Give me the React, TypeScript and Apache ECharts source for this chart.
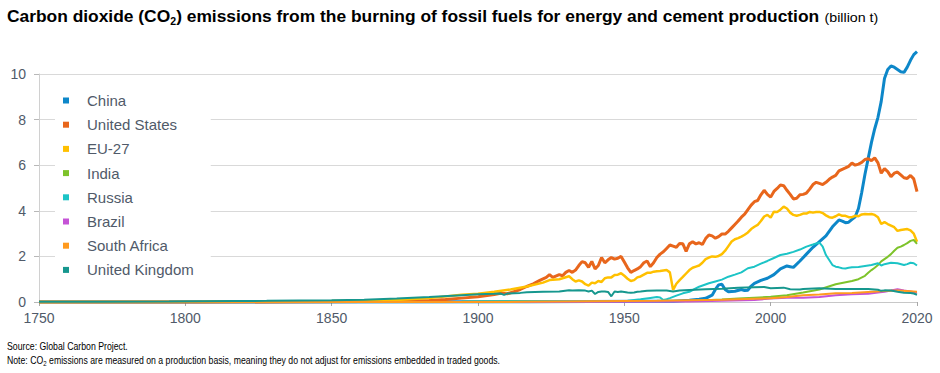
import React, { useEffect, useRef } from "react";
import * as echarts from "echarts";

const tickLabels = ["1750", "1800", "1850", "1900", "1950", "2000", "2020"];
const seriesNames = ["China", "United States", "EU-27", "India", "Russia", "Brazil", "South Africa", "United Kingdom"];
const seriesColors = ["#0d87c9", "#e8661c", "#ffc000", "#7dc32a", "#1cc4c6", "#c553d6", "#ff9a1f", "#16978e"];
const seriesWidths = [3, 3, 2.5, 2, 2, 2, 2, 2];

const china: [number, number][] = [
  [1750, 0], [1900, 0.01], [1920, 0.02], [1935, 0.03], [1945, 0.03], [1950, 0.08], [1953, 0.12], [1955, 0.16], [1957, 0.3], [1958, 0.55], [1959, 0.75], [1960, 0.78], [1961, 0.55], [1962, 0.45], [1964, 0.47], [1966, 0.55], [1967, 0.5], [1968, 0.52], [1969, 0.7], [1970, 0.82], [1972, 0.95], [1974, 1.04], [1976, 1.2], [1978, 1.45], [1980, 1.58], [1981, 1.55], [1982, 1.52], [1984, 1.8], [1986, 2.1], [1988, 2.4], [1990, 2.65], [1992, 2.9], [1994, 3.3], [1996, 3.6], [1997, 3.55], [1998, 3.48], [1999, 3.5], [2000, 3.62], [2001, 3.74], [2002, 4.1], [2003, 4.8], [2004, 5.6], [2005, 6.3], [2006, 7.0], [2007, 7.6], [2008, 8.1], [2009, 8.8], [2010, 9.8], [2011, 10.2], [2012, 10.35], [2013, 10.3], [2014, 10.2], [2015, 10.1], [2016, 10.07], [2017, 10.3], [2018, 10.6], [2019, 10.85], [2020, 10.98],
];

const unitedStates: [number, number][] = [
  [1750, 0], [1800, 0], [1830, 0.01], [1850, 0.02], [1860, 0.03], [1866, 0.05], [1870, 0.07], [1875, 0.11], [1880, 0.17], [1885, 0.23], [1890, 0.33], [1892, 0.38], [1894, 0.36], [1896, 0.45], [1898, 0.55], [1900, 0.68], [1902, 0.8], [1904, 0.95], [1906, 1.08], [1907, 1.2], [1908, 1.08], [1910, 1.2], [1911, 1.15], [1912, 1.3], [1913, 1.38], [1914, 1.3], [1915, 1.4], [1916, 1.6], [1917, 1.77], [1918, 1.72], [1919, 1.52], [1920, 1.78], [1921, 1.45], [1922, 1.6], [1923, 1.95], [1924, 1.72], [1925, 1.85], [1926, 1.95], [1927, 1.88], [1928, 1.92], [1929, 2.0], [1930, 1.75], [1931, 1.5], [1932, 1.3], [1933, 1.38], [1934, 1.45], [1935, 1.55], [1936, 1.72], [1937, 1.8], [1938, 1.55], [1939, 1.72], [1940, 1.95], [1941, 2.1], [1942, 2.2], [1943, 2.35], [1944, 2.5], [1945, 2.45], [1946, 2.4], [1947, 2.57], [1948, 2.55], [1949, 2.22], [1950, 2.55], [1951, 2.64], [1952, 2.55], [1953, 2.6], [1954, 2.52], [1955, 2.78], [1956, 2.94], [1957, 2.9], [1958, 2.8], [1959, 2.87], [1960, 2.98], [1961, 2.98], [1962, 3.1], [1963, 3.25], [1964, 3.4], [1965, 3.55], [1966, 3.72], [1967, 3.85], [1968, 4.05], [1969, 4.25], [1970, 4.4], [1971, 4.45], [1972, 4.7], [1973, 4.9], [1974, 4.72], [1975, 4.6], [1976, 4.85], [1977, 4.98], [1978, 5.13], [1979, 5.1], [1980, 4.9], [1981, 4.72], [1982, 4.52], [1983, 4.55], [1984, 4.7], [1985, 4.72], [1986, 4.78], [1987, 4.95], [1988, 5.15], [1989, 5.25], [1990, 5.2], [1991, 5.15], [1992, 5.25], [1993, 5.38], [1994, 5.48], [1995, 5.55], [1996, 5.75], [1997, 5.82], [1998, 5.88], [1999, 5.95], [2000, 6.1], [2001, 6.0], [2002, 6.05], [2003, 6.12], [2004, 6.25], [2005, 6.28], [2006, 6.2], [2007, 6.32], [2008, 6.1], [2009, 5.65], [2010, 5.85], [2011, 5.72], [2012, 5.5], [2013, 5.65], [2014, 5.7], [2015, 5.58], [2016, 5.45], [2017, 5.42], [2018, 5.55], [2019, 5.4], [2020, 4.84],
];

const eu27: [number, number][] = [
  [1750, 0], [1800, 0.01], [1820, 0.02], [1840, 0.04], [1850, 0.06], [1860, 0.09], [1870, 0.17], [1880, 0.32], [1885, 0.36], [1890, 0.45], [1895, 0.55], [1900, 0.68], [1905, 0.85], [1907, 0.96], [1910, 1.0], [1913, 1.13], [1914, 1.0], [1915, 0.9], [1916, 0.95], [1917, 0.9], [1918, 0.78], [1919, 0.72], [1920, 0.85], [1921, 0.82], [1922, 0.92], [1923, 0.88], [1924, 1.04], [1925, 1.08], [1926, 1.08], [1927, 1.18], [1928, 1.2], [1929, 1.26], [1930, 1.15], [1931, 1.02], [1932, 0.92], [1933, 0.96], [1934, 1.08], [1935, 1.12], [1936, 1.2], [1937, 1.28], [1938, 1.28], [1939, 1.33], [1940, 1.35], [1941, 1.36], [1942, 1.38], [1943, 1.4], [1944, 1.3], [1945, 0.53], [1946, 0.8], [1947, 0.96], [1948, 1.1], [1949, 1.25], [1950, 1.4], [1951, 1.5], [1952, 1.55], [1953, 1.6], [1954, 1.72], [1955, 1.88], [1956, 1.95], [1957, 2.0], [1958, 1.98], [1959, 2.02], [1960, 2.1], [1961, 2.25], [1962, 2.45], [1963, 2.65], [1964, 2.75], [1965, 2.8], [1966, 2.87], [1967, 2.95], [1968, 3.05], [1969, 3.2], [1970, 3.3], [1971, 3.38], [1972, 3.55], [1973, 3.75], [1974, 3.82], [1975, 3.7], [1976, 3.96], [1977, 3.95], [1978, 4.05], [1979, 4.18], [1980, 4.1], [1981, 3.92], [1982, 3.82], [1983, 3.78], [1984, 3.82], [1985, 3.88], [1986, 3.88], [1987, 3.95], [1988, 3.92], [1989, 3.95], [1990, 3.95], [1991, 3.9], [1992, 3.8], [1993, 3.72], [1994, 3.7], [1995, 3.76], [1996, 3.84], [1997, 3.78], [1998, 3.78], [1999, 3.72], [2000, 3.72], [2001, 3.78], [2002, 3.76], [2003, 3.84], [2004, 3.86], [2005, 3.85], [2006, 3.86], [2007, 3.82], [2008, 3.72], [2009, 3.42], [2010, 3.5], [2011, 3.42], [2012, 3.35], [2013, 3.28], [2014, 3.12], [2015, 3.16], [2016, 3.18], [2017, 3.2], [2018, 3.14], [2019, 3.0], [2020, 2.64],
];

const india: [number, number][] = [
  [1750, 0], [1850, 0], [1880, 0.01], [1900, 0.02], [1920, 0.03], [1940, 0.04], [1950, 0.06], [1955, 0.08], [1960, 0.11], [1965, 0.15], [1970, 0.19], [1975, 0.23], [1980, 0.3], [1985, 0.42], [1990, 0.55], [1995, 0.78], [2000, 0.92], [2002, 1.0], [2004, 1.15], [2005, 1.28], [2006, 1.4], [2007, 1.5], [2008, 1.62], [2009, 1.78], [2010, 1.88], [2011, 1.98], [2012, 2.1], [2013, 2.25], [2014, 2.38], [2015, 2.43], [2016, 2.5], [2017, 2.58], [2018, 2.68], [2019, 2.72], [2020, 2.55],
];

const russia: [number, number][] = [
  [1750, 0], [1850, 0], [1880, 0.01], [1900, 0.02], [1913, 0.04], [1920, 0.02], [1928, 0.04], [1931, 0.06], [1935, 0.12], [1938, 0.18], [1940, 0.22], [1941, 0.2], [1942, 0.09], [1943, 0.12], [1944, 0.17], [1946, 0.28], [1948, 0.38], [1950, 0.45], [1953, 0.67], [1956, 0.82], [1958, 0.9], [1960, 0.98], [1962, 1.11], [1964, 1.2], [1966, 1.3], [1968, 1.48], [1970, 1.55], [1972, 1.68], [1974, 1.8], [1976, 1.93], [1978, 2.06], [1980, 2.12], [1982, 2.2], [1984, 2.3], [1986, 2.43], [1988, 2.52], [1989, 2.57], [1990, 2.6], [1991, 2.43], [1992, 2.06], [1993, 1.84], [1994, 1.62], [1995, 1.55], [1996, 1.52], [1997, 1.48], [1998, 1.47], [1999, 1.5], [2000, 1.52], [2002, 1.54], [2004, 1.58], [2006, 1.62], [2008, 1.7], [2009, 1.6], [2010, 1.66], [2012, 1.72], [2014, 1.7], [2016, 1.62], [2017, 1.66], [2018, 1.72], [2019, 1.7], [2020, 1.6],
];

const brazil: [number, number][] = [
  [1750, 0], [1900, 0], [1930, 0.01], [1950, 0.02], [1960, 0.05], [1970, 0.09], [1975, 0.15], [1980, 0.19], [1985, 0.19], [1990, 0.22], [1995, 0.3], [2000, 0.34], [2005, 0.36], [2008, 0.42], [2010, 0.45], [2012, 0.5], [2014, 0.56], [2016, 0.5], [2018, 0.46], [2020, 0.41],
];

const southAfrica: [number, number][] = [
  [1750, 0], [1890, 0], [1900, 0.01], [1920, 0.03], [1940, 0.05], [1950, 0.08], [1960, 0.1], [1970, 0.14], [1975, 0.16], [1980, 0.22], [1985, 0.3], [1990, 0.33], [1995, 0.38], [2000, 0.4], [2005, 0.44], [2010, 0.48], [2014, 0.5], [2018, 0.47], [2020, 0.45],
];

const unitedKingdom: [number, number][] = [
  [1750, 0.01], [1770, 0.015], [1790, 0.02], [1800, 0.03], [1810, 0.04], [1820, 0.05], [1830, 0.07], [1840, 0.08], [1850, 0.1], [1860, 0.15], [1870, 0.22], [1880, 0.3], [1885, 0.34], [1890, 0.36], [1892, 0.37], [1893, 0.31], [1894, 0.37], [1898, 0.4], [1900, 0.43], [1905, 0.45], [1910, 0.46], [1913, 0.52], [1914, 0.5], [1916, 0.52], [1918, 0.5], [1919, 0.46], [1920, 0.5], [1921, 0.35], [1922, 0.44], [1923, 0.46], [1924, 0.46], [1925, 0.44], [1926, 0.25], [1927, 0.46], [1928, 0.44], [1929, 0.46], [1930, 0.44], [1931, 0.42], [1932, 0.41], [1933, 0.42], [1934, 0.45], [1935, 0.46], [1937, 0.49], [1940, 0.5], [1943, 0.5], [1945, 0.46], [1947, 0.5], [1950, 0.53], [1955, 0.56], [1960, 0.58], [1965, 0.62], [1970, 0.65], [1973, 0.66], [1975, 0.6], [1979, 0.63], [1981, 0.56], [1984, 0.55], [1985, 0.57], [1990, 0.6], [1995, 0.57], [2000, 0.57], [2005, 0.57], [2008, 0.54], [2009, 0.49], [2010, 0.51], [2012, 0.5], [2014, 0.45], [2016, 0.41], [2018, 0.39], [2019, 0.37], [2020, 0.32],
];

const seriesData = [china, unitedStates, eu27, india, russia, brazil, southAfrica, unitedKingdom];

const titleMain = "Carbon dioxide (CO";
const titleRest = ") emissions from the burning of fossil fuels for energy and cement production ";
const titleUnit = "(billion t)";
const sourceText = "Source: Global Carbon Project.";
const notePre = "Note: CO";
const notePost = " emissions are measured on a production basis, meaning they do not adjust for emissions embedded in traded goods.";

const FONT = "'Liberation Sans', Arial, sans-serif";
const AXIS_COLOR = "#505a69";

function measure(text: string, rich: any): number {
  const t = new (echarts.graphic as any).Text({ style: { text, rich } });
  return t.getBoundingRect().width;
}

export default function App() {
  const ref = useRef<HTMLDivElement>(null);
  useEffect(() => {
    document.body.style.margin = "0";
    if (!ref.current) return;
    const chart = echarts.init(ref.current, undefined, { renderer: "svg" });

    const titleRich = {
      b: { fontFamily: FONT, fontWeight: "bold", fontSize: 16.5, color: "#111", lineHeight: 20 },
      s: { fontFamily: FONT, fontWeight: "bold", fontSize: 10, color: "#111", lineHeight: 10, verticalAlign: "bottom" },
      n: { fontFamily: FONT, fontSize: 13.5, color: "#333", lineHeight: 20 },
    };
    const titleStr = `{b|${titleMain}}{s|2}{b|${titleRest}}{n|${titleUnit}}`;
    const titleW = measure(titleStr, titleRich);

    const noteRich = {
      r: { fontFamily: FONT, fontSize: 10, color: "#333", lineHeight: 12 },
      s: { fontFamily: FONT, fontSize: 7, color: "#333", lineHeight: 7, verticalAlign: "bottom" },
    };
    const sourceStr = `{r|${sourceText}}`;
    const noteStr = `{r|${notePre}}{s|2}{r|${notePost}}`;
    const sourceW = measure(sourceStr, noteRich);
    const noteW = measure(noteStr, noteRich);

    chart.setOption({
      animation: false,
      grid: { left: 39, right: 23, top: 74, bottom: 71, containLabel: false },
      legend: {
        orient: "vertical",
        left: 55,
        top: 82,
        padding: [10, 17, 12, 8],
        backgroundColor: "#ffffff",
        icon: "rect",
        itemWidth: 6,
        itemHeight: 6,
        itemGap: 7.2,
        data: seriesNames,
        textStyle: { fontFamily: FONT, fontSize: 15, color: AXIS_COLOR, lineHeight: 17, padding: [0, 0, 0, 13] },
      },
      xAxis: [
        {
          type: "category",
          data: tickLabels,
          boundaryGap: false,
          axisLine: { show: true, lineStyle: { color: "#c8c8c8", width: 1 } },
          axisTick: { show: true, length: 4, lineStyle: { color: "#a8a8a8" } },
          axisLabel: { fontFamily: FONT, fontSize: 14, color: AXIS_COLOR, margin: 9 },
          splitLine: { show: false },
        },
        {
          type: "value",
          min: 1750,
          max: 2020,
          show: false,
          splitLine: { show: false },
        },
      ],
      yAxis: {
        type: "value",
        min: 0,
        max: 10,
        interval: 2,
        axisLine: { show: true, lineStyle: { color: "#d0d0d0" } },
        axisTick: { show: true, length: 5, lineStyle: { color: "#b8b8b8" } },
        axisLabel: { fontFamily: FONT, fontSize: 14, color: AXIS_COLOR, margin: 13 },
        splitLine: { show: true, lineStyle: { color: "#d9d9d9", width: 1 } },
      },
      series: seriesNames.map((name, i) => ({
        name,
        type: "line",
        xAxisIndex: 1,
        data: seriesData[i],
        showSymbol: false,
        symbol: "none",
        clip: false,
        color: seriesColors[i],
        lineStyle: { width: seriesWidths[i], color: seriesColors[i] },
        emphasis: { disabled: true },
        z: 2,
      })),
      graphic: [
        {
          type: "text",
          x: 7,
          y: 17,
          scaleX: 871 / titleW,
          style: { text: titleStr, rich: titleRich, verticalAlign: "middle", align: "left" },
        },
        {
          type: "text",
          x: 7,
          y: 346,
          scaleX: 121 / sourceW,
          style: { text: sourceStr, rich: noteRich, verticalAlign: "middle", align: "left" },
        },
        {
          type: "text",
          x: 7,
          y: 361,
          scaleX: 494 / noteW,
          style: { text: noteStr, rich: noteRich, verticalAlign: "middle", align: "left" },
        },
      ],
    });
    return () => chart.dispose();
  }, []);
  return <div ref={ref} style={{ width: 940, height: 373 }} />;
}
